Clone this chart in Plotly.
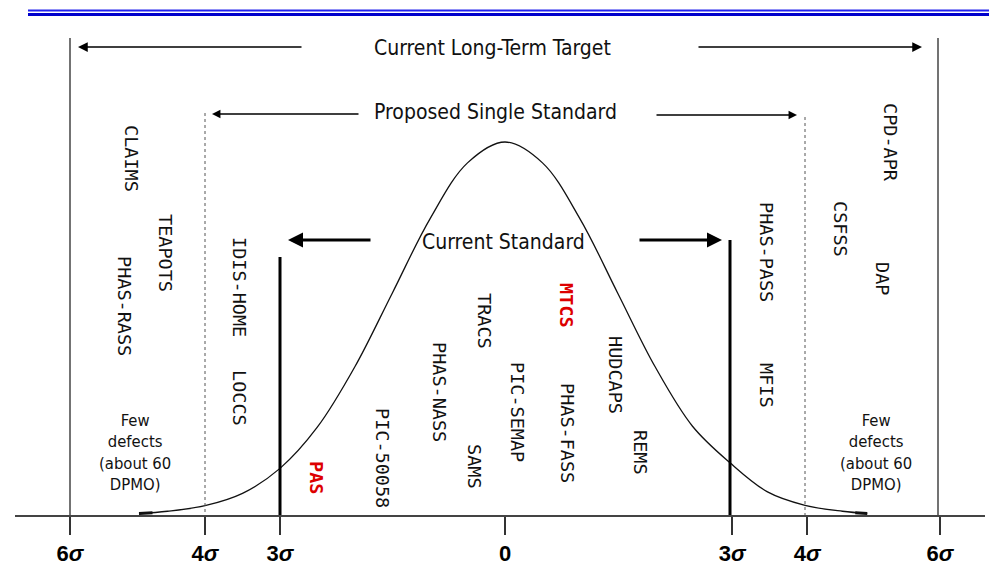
import plotly.graph_objects as go

# ---------------- data ----------------
curve_x = [-4.88, -4.5, -4.0, -3.5, -3.0, -2.5, -2.0, -1.5, -1.0, -0.5, 0.0,
           0.5, 1.0, 1.5, 2.0, 2.5, 3.0, 3.5, 4.0, 4.5, 4.83]
curve_h = [0.004, 0.010, 0.025, 0.058, 0.125, 0.236, 0.398, 0.596, 0.794, 0.944, 1.0,
           0.944, 0.794, 0.596, 0.398, 0.238, 0.140, 0.062, 0.026, 0.010, 0.004]

tick_vals = [-5.8, -4.0, -3.0, 0.0, 3.03, 4.03, 5.8]
tick_labels = ["6σ", "4σ", "3σ", "0", "3σ", "4σ", "6σ"]

programs = ["CLAIMS", "TEAPOTS", "PHAS-RASS", "IDIS-HOME", "LOCCS", "PIC-50058", "PAS",
            "PHAS-NASS", "TRACS", "SAMS", "PIC-SEMAP", "MTCS", "PHAS-FASS", "HUDCAPS",
            "REMS", "PHAS-PASS", "MFIS", "CPD-APR", "CSFSS", "DAP"]
highlighted = ["PAS", "MTCS"]

band_titles = ["Current Long-Term Target", "Proposed Single Standard", "Current Standard"]
note_text = "Few<br>defects<br>(about 60<br>DPMO)"

# ---------------- layout helpers (pixel -> data) ----------------
def X(px):
    return (px - 505) / 75.0

def Y(py):
    return (515 - py) / 373.0

# label positions (pixel centres)
label_pos = {
    "CLAIMS": (132, 158), "TEAPOTS": (166, 253), "PHAS-RASS": (125, 306),
    "IDIS-HOME": (240, 287), "LOCCS": (240, 398), "PIC-50058": (383, 458),
    "PAS": (317, 477), "PHAS-NASS": (440, 392), "TRACS": (485, 321),
    "SAMS": (475, 466), "PIC-SEMAP": (518, 412), "MTCS": (567, 305),
    "PHAS-FASS": (568, 433), "HUDCAPS": (616, 375), "REMS": (641, 452),
    "PHAS-PASS": (767, 252), "MFIS": (767, 385), "CPD-APR": (891, 142),
    "CSFSS": (841, 229), "DAP": (883, 278),
}

TEXT_FONT = "Liberation Sans Narrow, DejaVu Sans Condensed, Arial Narrow, sans-serif"
MONO_FONT = "DejaVu Sans Mono, Liberation Mono, monospace"

fig = go.Figure()

# normal curve
fig.add_trace(go.Scatter(x=curve_x, y=curve_h, mode="lines",
                         line=dict(color="#111111", width=1.3, shape="spline", smoothing=1.0),
                         hoverinfo="skip", showlegend=False))
# thick tail ends
fig.add_trace(go.Scatter(x=[curve_x[0], curve_x[0] + 0.18], y=[curve_h[0], curve_h[0] + 0.002],
                         mode="lines", line=dict(color="#111111", width=3),
                         hoverinfo="skip", showlegend=False))
fig.add_trace(go.Scatter(x=[curve_x[-1] - 0.16, curve_x[-1]], y=[curve_h[-1] + 0.002, curve_h[-1]],
                         mode="lines", line=dict(color="#111111", width=3),
                         hoverinfo="skip", showlegend=False))

shapes = []
# top double blue rule
shapes.append(dict(type="line", xref="paper", yref="y", x0=(28 - 15) / 970, x1=1.01,
                   y0=Y(10.5), y1=Y(10.5), line=dict(color="#2222ee", width=2)))
shapes.append(dict(type="line", xref="paper", yref="y", x0=(28 - 15) / 970, x1=1.01,
                   y0=Y(14.5), y1=Y(14.5), line=dict(color="#0000cc", width=3)))
# outer 6-sigma lines
for px, top in [(70, 38), (938, 38)]:
    shapes.append(dict(type="line", x0=X(px), x1=X(px), y0=Y(top), y1=0,
                       line=dict(color="#444444", width=1.5)))
# dotted 4-sigma lines
for px, top in [(205, 113), (805, 117)]:
    shapes.append(dict(type="line", x0=X(px), x1=X(px), y0=Y(top), y1=0,
                       line=dict(color="#555555", width=1, dash="dot")))
# thick 3-sigma lines
for px, top in [(280, 257), (730, 240)]:
    shapes.append(dict(type="line", x0=X(px), x1=X(px), y0=Y(top), y1=0,
                       line=dict(color="#000000", width=3)))

annotations = []
# arrows
arrow_specs = [
    # (tail_px, tip_px, y_px, width)
    (303, 78, 47, 1.5), (697, 922, 47, 1.5),
    (360, 212, 114, 1.3), (655, 797, 115, 1.3),
    (372, 288, 240, 3), (638, 722, 240, 3),
]
for tail, tip, ypx, w in arrow_specs:
    annotations.append(dict(x=X(tip), y=Y(ypx), ax=X(tail), ay=Y(ypx),
                            xref="x", yref="y", axref="x", ayref="y",
                            text="", showarrow=True, arrowhead=2,
                            arrowsize=1.0 if w > 2 else 1.3, arrowwidth=w,
                            arrowcolor="#000000"))

# band titles
for title, (px, py) in zip(band_titles, [(492, 48), (495, 112), (503, 242)]):
    annotations.append(dict(x=X(px), y=Y(py), xref="x", yref="y", text=title,
                            showarrow=False, font=dict(family=TEXT_FONT, size=21, color="#111111")))

# program labels (vertical)
for name in programs:
    px, py = label_pos[name]
    red = name in highlighted
    annotations.append(dict(x=X(px), y=Y(py), xref="x", yref="y",
                            text=f"<b>{name}</b>" if red else name,
                            textangle=90, showarrow=False,
                            font=dict(family=MONO_FONT, size=18.5,
                                      color="#dd0000" if red else "#111111")))

# few defects notes
for px in [135, 876]:
    annotations.append(dict(x=X(px), y=Y(452), xref="x", yref="y", text=note_text,
                            showarrow=False, align="center",
                            font=dict(family=TEXT_FONT, size=16.5, color="#111111")))

fig.update_layout(
    width=989, height=567,
    margin=dict(l=15, r=4, t=0, b=52),
    paper_bgcolor="white", plot_bgcolor="white",
    shapes=shapes, annotations=annotations,
    showlegend=False,
    xaxis=dict(range=[X(15), X(985)], showgrid=False, zeroline=False,
               showline=True, linecolor="#444444", linewidth=2,
               ticks="outside", ticklen=18, tickwidth=2, tickcolor="#333333",
               tickvals=tick_vals,
               ticktext=[f"<b>{t[:-1]}<i>σ</i></b>" if t.endswith("σ") else f"<b>{t}</b>"
                         for t in tick_labels],
               tickfont=dict(family="Liberation Sans, Arial, sans-serif", size=22, color="#000000"),
               fixedrange=True),
    yaxis=dict(range=[0, Y(0)], visible=False, fixedrange=True),
)

fig.write_html("out.html", config={"displayModeBar": False},
               post_script="document.body.style.margin='0px';")
